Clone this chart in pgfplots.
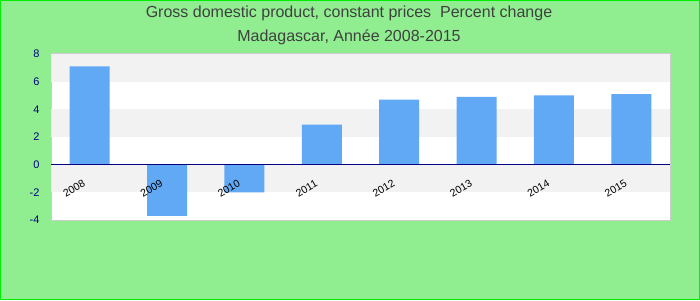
\documentclass[border=0pt]{standalone}
\usepackage{pgfplots}
\pgfplotsset{compat=1.18}
\usepackage{fontspec}
\setmainfont{Liberation Sans}
\definecolor{bgGreen}{HTML}{90EE90}
\definecolor{borderGreen}{HTML}{00EE00}
\definecolor{barBlue}{HTML}{61A8F5}
\definecolor{bandGray}{HTML}{F2F2F2}
\definecolor{frameGray}{HTML}{CCCCCC}
\definecolor{titleGray}{HTML}{404040}
\definecolor{tickNavy}{HTML}{000080}
\begin{document}
\begin{tikzpicture}
\useasboundingbox (0pt,0pt) rectangle (700pt,300pt);
\fill[bgGreen] (0pt,0pt) rectangle (700pt,300pt);
\draw[borderGreen, line width=1pt] (0.5pt,0.5pt) rectangle (699.5pt,299.5pt);
\node[text=titleGray, font=\fontsize{16}{19}\selectfont] at (349pt,287pt) {Gross domestic product, constant prices\ \ Percent change};
\node[text=titleGray, font=\fontsize{16}{19}\selectfont] at (349pt,263pt) {Madagascar, Année 2008-2015};
\begin{axis}[
  at={(51pt,80pt)}, anchor=south west,
  scale only axis, width=619pt, height=166pt,
  xmin=-0.5, xmax=7.5, ymin=-4, ymax=8,
  ytick={-4,-2,0,2,4,6,8},
  xtick={0,...,7},
  xticklabels={},
  major tick length=0pt,
  axis line style={frameGray, line width=1pt},
  axis background/.style={fill=white},
  /pgf/number format/assume math mode=true,
  yticklabel style={text=tickNavy, font=\fontsize{11}{13}\selectfont, xshift=-8pt},
  ybar, bar width=40pt,
  clip=false,
]
\fill[bandGray] (axis cs:-0.5,6) rectangle (axis cs:7.5,8);
\fill[bandGray] (axis cs:-0.5,2) rectangle (axis cs:7.5,4);
\fill[bandGray] (axis cs:-0.5,-2) rectangle (axis cs:7.5,0);
\addplot[fill=barBlue, draw=none] coordinates {
  (0,7.1) (1,-3.7) (2,-2.0) (3,2.9) (4,4.7) (5,4.9) (6,5.0) (7,5.1)
};
\draw[tickNavy, line width=1pt] (axis cs:-0.5,0) -- (axis cs:7.5,0);
\node[rotate=30, anchor=north east, font=\fontsize{10.5}{12}\selectfont] at ([xshift=-6pt,yshift=-10pt]axis cs:0,0) {2008};
\node[rotate=30, anchor=north east, font=\fontsize{10.5}{12}\selectfont] at ([xshift=-6pt,yshift=-10pt]axis cs:1,0) {2009};
\node[rotate=30, anchor=north east, font=\fontsize{10.5}{12}\selectfont] at ([xshift=-6pt,yshift=-10pt]axis cs:2,0) {2010};
\node[rotate=30, anchor=north east, font=\fontsize{10.5}{12}\selectfont] at ([xshift=-6pt,yshift=-10pt]axis cs:3,0) {2011};
\node[rotate=30, anchor=north east, font=\fontsize{10.5}{12}\selectfont] at ([xshift=-6pt,yshift=-10pt]axis cs:4,0) {2012};
\node[rotate=30, anchor=north east, font=\fontsize{10.5}{12}\selectfont] at ([xshift=-6pt,yshift=-10pt]axis cs:5,0) {2013};
\node[rotate=30, anchor=north east, font=\fontsize{10.5}{12}\selectfont] at ([xshift=-6pt,yshift=-10pt]axis cs:6,0) {2014};
\node[rotate=30, anchor=north east, font=\fontsize{10.5}{12}\selectfont] at ([xshift=-6pt,yshift=-10pt]axis cs:7,0) {2015};
\end{axis}
\end{tikzpicture}
\end{document}
